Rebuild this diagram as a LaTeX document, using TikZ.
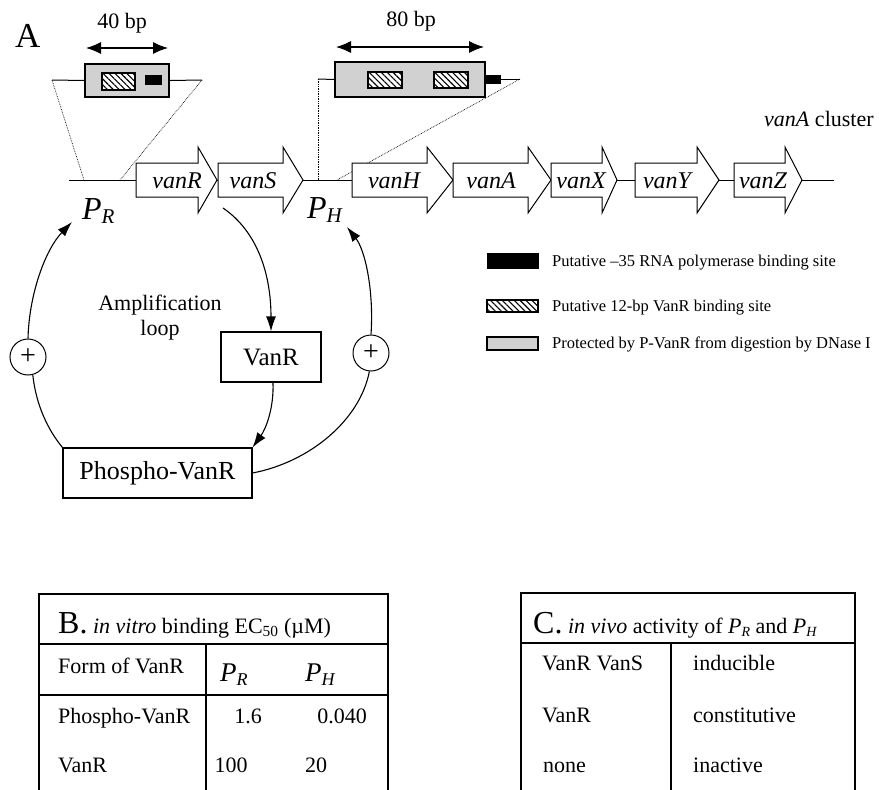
\documentclass[tikz,border=0pt]{standalone}
\usepackage{fontspec}
\setmainfont{Liberation Serif}
\usetikzlibrary{arrows.meta,patterns.meta}
\newcommand\prom[4]{{\fontsize{#1}{#1}\selectfont\itshape P\raisebox{-#3}{\fontsize{#2}{#2}\selectfont #4}}}
\newcommand\genearrow[6]{%
  \draw[gene] (#2,163) -- (#3,163) -- (#3,147) -- (#4,180) -- (#3,213) -- (#3,197) -- (#2,197) -- cycle;
  \node[genelab] (#1) at (#5,188) {#6};}
\tikzset{
  fs/.style={font=\fontsize{#1}{#1}\selectfont},
  txt/.style={anchor=base west, inner sep=0pt, font=\fontsize{22}{22}\selectfont},
  ctxt/.style={anchor=base, inner sep=0pt, font=\fontsize{22}{22}\selectfont},
  legtext/.style={anchor=base west, inner sep=0pt, font=\fontsize{16.5}{16.5}\selectfont},
  gene/.style={draw=black, fill=white, line width=1pt, line join=miter},
  genelab/.style={anchor=base, inner sep=0pt, font=\fontsize{24}{24}\selectfont\itshape},
  prot/.style={draw, line width=1.1pt, fill=black!18, inner sep=0pt},
  hatchbox/.style={draw, line width=1.1pt, fill=white, inner sep=0pt,
    postaction={pattern={Lines[angle=-45,distance=4.2pt,line width=1.1pt]}}},
  blk/.style={draw, fill=black, inner sep=0pt},
  thinline/.style={line width=1pt},
  dotline/.style={densely dotted, line width=0.7pt},
  dbl/.style={{Latex[length=15pt,width=12pt]}-{Latex[length=15pt,width=12pt]}, line width=1.1pt},
  arr/.style={-{Latex[length=15pt,width=10pt]}, line width=1.1pt},
  con/.style={line width=1.1pt},
  box/.style={draw, line width=1.1pt, inner sep=0pt},
  plus/.style={draw, circle, minimum size=36pt, inner sep=0pt, line width=1pt, font=\fontsize{28}{28}\selectfont},
  tab/.style={line width=1.2pt}
}
\begin{document}
\begin{tikzpicture}[x=1pt,y=-1pt]
\useasboundingbox (0,0) rectangle (879,790);

% panel label
\node[anchor=base west, inner sep=0pt, fs=35] (lblA) at (15,47) {A};

% ---------- 40 bp inset ----------
\node[ctxt] (bp40) at (122,28) {40 bp};
\coordinate (d1a) at (86,48);
\coordinate (d1b) at (168,48);
\draw[dbl] (d1a) -- (d1b);
\coordinate (l1a) at (52,80);
\coordinate (l1b) at (202,80);
\coordinate (d1c) at (84,180);
\coordinate (d1d) at (120,180);
\draw[dotline] (l1a) -- (d1c);
\draw[dotline] (l1b) -- (d1d);
\node[prot, minimum width=84pt, minimum height=33pt] (box1) at (127,80.5) {};
\draw[thinline] (l1a) -- (box1.west);
\draw[thinline] (box1.east) -- (l1b);
\node[hatchbox, minimum width=33pt, minimum height=17pt] (h1) at (118.5,81.5) {};
\node[blk, minimum width=16pt, minimum height=9pt] (k1) at (153,79.5) {};

% ---------- 80 bp inset ----------
\node[ctxt] (bp80) at (411,26) {80 bp};
\coordinate (d2a) at (336,47);
\coordinate (d2b) at (484,47);
\draw[dbl] (d2a) -- (d2b);
\coordinate (l2a) at (318,79);
\coordinate (l2b) at (520,79);
\coordinate (d2c) at (318,180);
\coordinate (d2d) at (337,180);
\draw[dotline] (l2a) -- (d2c);
\draw[dotline] (l2b) -- (d2d);
\node[prot, minimum width=150pt, minimum height=35pt] (box2) at (410,79.5) {};
\draw[thinline] (l2a) -- (box2.west);
\node[hatchbox, minimum width=34pt, minimum height=16pt] (h2a) at (385,80) {};
\node[hatchbox, minimum width=34pt, minimum height=16pt] (h2b) at (451,80) {};
\node[blk, minimum width=15pt, minimum height=8pt] (k2) at (492.5,79) {};
\draw[thinline] (k2.east) -- (l2b);

% ---------- gene cluster ----------
\coordinate (dnaA) at (69,180);
\coordinate (dnaB) at (834,180);
\draw[thinline] (dnaA) -- (dnaB);
\genearrow{gR}{136}{198}{217}{177}{vanR}
\genearrow{gS}{218}{283}{303}{253}{vanS}
\genearrow{gH}{352}{427}{453}{394}{vanH}
\genearrow{gA}{453}{528}{551}{491}{vanA}
\genearrow{gX}{551}{602}{617}{581}{vanX}
\genearrow{gY}{635}{697}{719}{667}{vanY}
\genearrow{gZ}{734}{785}{802}{763}{vanZ}
\node[txt] (clus) at (764,126) {\textit{vanA} cluster};

\node[anchor=base west, inner sep=0pt] (PR) at (82,219) {\prom{32}{21}{4pt}{R}};
\node[anchor=base west, inner sep=0pt] (PH) at (307,218) {\prom{32}{21}{4pt}{H}};

% ---------- legend ----------
\node[blk, minimum width=51pt, minimum height=15pt] (legK) at (512.5,260.5) {};
\node[legtext] (legKt) at (552,266) {Putative –35 RNA polymerase binding site};
\node[hatchbox, minimum width=51pt, minimum height=12pt] (legH) at (512.5,306) {};
\node[legtext] (legHt) at (552,311) {Putative 12-bp VanR binding site};
\node[prot, minimum width=51pt, minimum height=13pt] (legP) at (512.5,343.5) {};
\node[legtext] (legPt) at (552,348) {Protected by P-VanR from digestion by DNase I};

% ---------- amplification loop ----------
\node[box, minimum width=100pt, minimum height=50pt, fs=25] (vanr) at (271,357) {VanR};
\node[box, minimum width=189pt, minimum height=50pt, fs=26] (phos) at (157.5,473) {Phospho-VanR};
\node[plus] (plusL) at (28,357) {+};
\node[plus] (plusR) at (371,353) {+};
\node[align=center, inner sep=0pt, font=\fontsize{22}{25}\selectfont] (amp) at (160,318) {Amplification\\loop};
\coordinate (sout) at (223,208);
\coordinate (tipR) at (72,222);
\coordinate (tipH) at (347,227);

\draw[arr] (sout) .. controls (258,232) and (271,275) .. (vanr.north);
\draw[arr] ([xshift=2pt]vanr.south) .. controls (274,410) and (265,430) .. (phos.north east);
\draw[con] (phos.north west) .. controls (48,430) and (36,405) .. (plusL.-75);
\draw[arr] (plusL.north) .. controls (29,295) and (45,250) .. (tipR);
\draw[con] (phos.east) .. controls (310,462) and (360,420) .. (plusR.-95);
\draw[arr] (plusR.north) .. controls (374,290) and (365,250) .. (tipH);

% ---------- table B ----------
\draw[tab] (39,790) -- (39,594) -- (388,594) -- (388,790);
\draw[tab] (39,644) -- (388,644);
\draw[tab] (39,695) -- (388,695);
\draw[tab] (206,644) -- (206,790);
\node[txt] (titB) at (58,633) {{\fontsize{32}{32}\selectfont B.} \textit{in vitro} binding EC\textsubscript{50} (µM)};
\node[txt] (hB1) at (58,673) {Form of VanR};
\node[anchor=base west, inner sep=0pt] (hB2) at (220,681) {\prom{27}{18}{4pt}{R}};
\node[anchor=base west, inner sep=0pt] (hB3) at (305,681) {\prom{27}{18}{4pt}{H}};
\node[txt] (rB1) at (58,723) {Phospho-VanR};
\node[ctxt] (rB1a) at (248,723) {1.6};
\node[ctxt] (rB1b) at (342,723) {0.040};
\node[txt] (rB2) at (58,772) {VanR};
\node[ctxt] (rB2a) at (231,772) {100};
\node[ctxt] (rB2b) at (316,772) {20};

% ---------- table C ----------
\draw[tab] (521,790) -- (521,593) -- (855,593) -- (855,790);
\draw[tab] (521,643) -- (855,643);
\draw[tab] (671,643) -- (671,790);
\node[txt] (titC) at (533,633) {{\fontsize{32}{32}\selectfont C.} \textit{in vivo} activity of \prom{22}{14}{3pt}{R} and \prom{22}{14}{3pt}{H}};
\node[txt] (rC1) at (542,670) {VanR VanS};
\node[txt] (rC1b) at (693,670) {inducible};
\node[txt] (rC2) at (542,722) {VanR};
\node[txt] (rC2b) at (693,722) {constitutive};
\node[txt] (rC3) at (543,772) {none};
\node[txt] (rC3b) at (693,772) {inactive};
\end{tikzpicture}
\end{document}
